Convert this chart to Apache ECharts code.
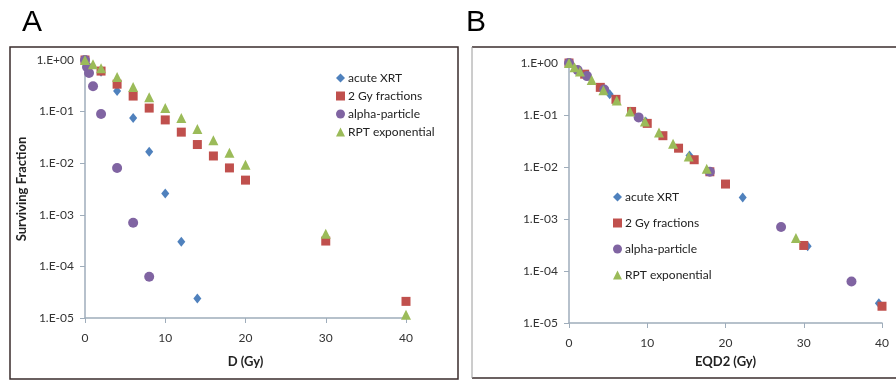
<!DOCTYPE html>
<html><head><meta charset="utf-8">
<script src="https://cdn.jsdelivr.net/npm/echarts@6/dist/echarts.min.js"></script>
<style>html,body{margin:0;padding:0;background:#fff}#c{width:896px;height:380px}</style>
</head><body><div id="c"></div>
<script>
// ---- data ----
const seriesNames = ['acute XRT', '2 Gy fractions', 'alpha-particle', 'RPT exponential'];
const xTicks = [0, 10, 20, 30, 40];

// acute XRT
const xrtDose = [0, 2, 4, 6, 8, 10, 12, 14];
const xrtEQD2 = [0, 2, 5.2, 9.8, 15.4, 22.2, 30.5, 39.6];
const xrtSF   = [1, 0.59, 0.25, 0.075, 0.0166, 0.0026, 0.0003, 0.000024];

// 2 Gy fractions
const fxDose = [0, 2, 4, 6, 8, 10, 12, 14, 16, 18, 20, 30, 40];
const fxEQD2 = [0, 2, 4, 6, 8, 10, 12, 14, 16, 18, 20, 30, 40];
const fxSF   = [1, 0.61, 0.34, 0.20, 0.117, 0.069, 0.040, 0.023, 0.0138, 0.0081, 0.0047, 0.00031, 0.000021];

// alpha-particle
const alDose = [0, 0.25, 0.5, 1, 2, 4, 6, 8];
const alEQD2 = [0, 1.1, 2.3, 4.5, 8.9, 18, 27.1, 36.1];
const alSF   = [1, 0.73, 0.56, 0.31, 0.09, 0.0081, 0.0007, 0.000063];

// RPT exponential
const rptDose = [0, 1, 2, 4, 6, 8, 10, 12, 14, 16, 18, 20, 30, 40];
const rptEQD2 = [0, 0.7, 1.4, 2.9, 4.4, 6.1, 7.8, 9.7, 11.5, 13.3, 15.3, 17.6, 29];
const rptSF   = [1, 0.83, 0.69, 0.47, 0.30, 0.19, 0.117, 0.075, 0.046, 0.028, 0.016, 0.0093, 0.00043, 0.0000115];

// ---- chart ----
function pairs(xs, ys) {
  const out = [];
  for (let i = 0; i < xs.length; i++) if (xs[i] !== undefined && xs[i] !== null) out.push([xs[i], ys[i]]);
  return out;
}
const colors = ['#4F81BD', '#C0504D', '#8064A2', '#9BBB59'];
const symbols = ['diamond', 'rect', 'circle', 'triangle'];
const sizes = [[8, 10], 9, 10, 10];
const FONT = 'Lato';
const axisLineColor = '#9fadbb';

function yAxis(idx) {
  return {
    type: 'log', logBase: 10, min: 0.00001, max: 1, gridIndex: idx,
    name: idx === 0 ? 'Surviving Fraction' : '',
    nameLocation: 'middle', nameGap: 57,
    nameTextStyle: { fontFamily: FONT, fontWeight: 'bold', fontSize: 13, color: '#222' },
    axisLine: { show: true, lineStyle: { color: axisLineColor, width: 1.5 } },
    axisTick: { show: true, length: 5, lineStyle: { color: axisLineColor } },
    splitLine: { show: false },
    axisLabel: {
      margin: 11, fontFamily: FONT, fontSize: 12, color: '#333',
      formatter: v => { const e = Math.round(Math.log10(v)); return '1.E' + (e < 0 ? '-' : '+') + String(Math.abs(e)).padStart(2, '0'); }
    }
  };
}
function xAxis(idx, name, gap) {
  return {
    type: 'value', min: xTicks[0], max: xTicks[xTicks.length - 1], interval: 10, gridIndex: idx,
    name: name, nameLocation: 'middle', nameGap: gap,
    nameTextStyle: { fontFamily: FONT, fontWeight: 'bold', fontSize: 13, color: '#222' },
    axisLine: { show: true, lineStyle: { color: axisLineColor, width: 1.5 } },
    axisTick: { show: true, length: 5, lineStyle: { color: axisLineColor } },
    splitLine: { show: false },
    axisLabel: { margin: 14, fontFamily: FONT, fontSize: 12, color: '#333' }
  };
}

const panelA = [pairs(xrtDose, xrtSF), pairs(fxDose, fxSF), pairs(alDose, alSF), pairs(rptDose, rptSF)];
const panelB = [pairs(xrtEQD2, xrtSF), pairs(fxEQD2, fxSF), pairs(alEQD2, alSF), pairs(rptEQD2, rptSF)];

const series = [];
[panelA, panelB].forEach((panel, p) => {
  panel.forEach((d, i) => {
    series.push({
      name: seriesNames[i], type: 'scatter', xAxisIndex: p, yAxisIndex: p,
      symbol: symbols[i], symbolSize: sizes[i], data: d,
      itemStyle: { color: colors[i], opacity: 1 }, z: 2 + i
    });
  });
});

function legend(left, top, gap) {
  return {
    orient: 'vertical', left: left, top: top, itemGap: gap, itemWidth: 9, itemHeight: 9,
    selectedMode: false,
    textStyle: { fontFamily: FONT, fontSize: 12, color: '#222', padding: [0, 0, 0, -2] },
    data: seriesNames.map((n, i) => ({ name: n, icon: symbols[i] }))
  };
}

const chart = echarts.init(document.getElementById('c'), null, { renderer: 'canvas' });
chart.setOption({
  animation: false,
  backgroundColor: '#fff',
  color: colors,
  grid: [
    { left: 85, top: 60, width: 321, height: 258 },
    { left: 569, top: 63, width: 313, height: 260 }
  ],
  xAxis: [xAxis(0, 'D (Gy)', 37), xAxis(1, 'EQD2 (Gy)', 32)],
  yAxis: [yAxis(0), yAxis(1)],
  legend: [legend(331, 67, 6), legend(608, 186, 14)],
  series: series,
  graphic: [
    { type: 'rect', shape: { x: 10, y: 47, width: 448, height: 332 }, style: { fill: 'none', stroke: '#3a2c2c', lineWidth: 1.5 }, silent: true },
    { type: 'line', shape: { x1: 472, y1: 47, x2: 896, y2: 47 }, style: { stroke: '#3a2c2c', lineWidth: 1.5 }, silent: true },
    { type: 'line', shape: { x1: 472, y1: 378, x2: 896, y2: 378 }, style: { stroke: '#3a2c2c', lineWidth: 1.5 }, silent: true },
    { type: 'line', shape: { x1: 472, y1: 47, x2: 472, y2: 378 }, style: { stroke: '#9a9a9a', lineWidth: 1 }, silent: true },
    { type: 'text', left: 22, top: 8, style: { text: 'A', font: '30px "Liberation Sans", Arial', fill: '#000' }, silent: true },
    { type: 'text', left: 466, top: 8, style: { text: 'B', font: '30px "Liberation Sans", Arial', fill: '#000' }, silent: true }
  ]
});
</script>
</body></html>
